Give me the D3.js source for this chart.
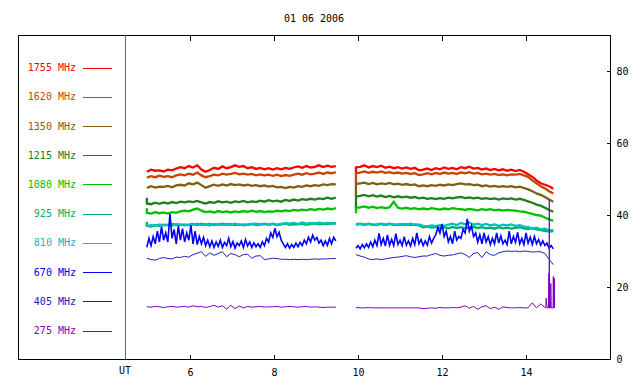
<!DOCTYPE html>
<html>
<head>
<meta charset="utf-8">
<script src="https://cdn.jsdelivr.net/npm/d3@7"></script>
<style>
  html, body { margin: 0; padding: 0; background: #fff; }
  svg text { font-family: "DejaVu Sans Mono", "Liberation Mono", monospace; font-size: 10px; }
</style>
</head>
<body>
<svg id="chart" width="640" height="384"></svg>
<script>
// ---------- data ----------
const title = "01 06 2006";
const freqs  = ["1755 MHz","1620 MHz","1350 MHz","1215 MHz","1080 MHz","925 MHz","810 MHz","670 MHz","405 MHz","275 MHz"];
const colors = ["#ff0000","#c84400","#806010","#208020","#00c000","#00b060","#00c0c0","#0000ff","#2020c0","#8000c0"];
const xTicks = [6, 8, 10, 12, 14];
const yTicks = [0, 20, 40, 60, 80];

// sampling of each segment (UT hours)
const seg1Start = 4.97, seg2Start = 9.95, step = 0.1, fineStep = 0.05;

// first reading of each record segment (drawn at the segment start, null = none)
const leadA = [null, null, null, 44.8, 41.9, 38.1, null, null, null, null];
const leadB = [51.8, 48.8, 45.3, 42.0, 40.5, null, null, null, null, null];

const f1755a = [52.0,52.6,52.3,52.4,52.1,52.6,52.4,52.9,53.3,53.0,
  53.6,53.2,53.8,52.6,52.0,52.5,53.1,52.8,53.5,53.0,
  53.3,53.8,53.4,53.6,53.0,53.3,52.8,53.1,52.7,53.0,
  52.6,53.0,52.7,53.1,52.8,53.2,53.5,53.1,53.6,53.2,
  53.4,53.8,53.3,53.7,53.4,53.6];
const f1755b = [53.2,53.4,53.8,53.2,53.6,53.3,53.7,53.1,53.4,53.0,
  53.3,52.9,53.2,52.8,53.1,52.4,52.6,52.9,52.5,53.0,
  52.7,53.2,52.8,53.1,52.7,53.3,53.0,53.4,52.9,53.1,
  52.6,52.9,52.5,52.8,52.4,52.7,52.3,52.6,52.2,52.5,
  52.0,51.3,50.6,49.6,48.8,48.4,48.0,47.3];

const f1620a = [50.4,50.8,50.5,50.9,50.6,50.8,50.5,51.0,51.3,51.0,
  51.5,51.2,51.8,51.0,50.5,50.8,51.2,51.0,51.5,51.2,
  51.4,51.7,51.3,51.5,51.2,51.4,51.0,51.3,51.0,51.2,
  50.9,51.2,50.8,51.1,50.9,51.2,51.5,51.2,51.6,51.3,
  51.5,51.8,51.4,51.8,51.6,51.9];
const f1620b = [51.6,51.8,52.1,51.7,52.0,51.8,52.1,51.7,51.9,51.6,
  51.8,51.5,51.7,51.4,51.6,51.1,51.3,51.6,51.3,51.7,
  51.4,51.8,51.5,51.7,51.4,51.8,51.6,51.9,51.5,51.7,
  51.3,51.5,51.2,51.4,51.1,51.3,51.0,51.3,51.2,51.4,
  51.0,50.6,49.6,48.8,48.0,47.4,46.6,46.0];

const f1350a = [47.5,48.0,47.6,47.9,47.8,48.1,47.7,48.2,48.4,48.2,
  48.8,48.5,49.0,48.3,47.6,48.0,48.4,48.1,48.5,48.2,
  48.6,48.3,48.5,48.2,48.4,48.1,48.3,48.0,48.2,47.9,
  48.1,47.7,47.8,47.5,47.8,47.6,48.0,47.8,48.2,48.0,
  48.3,48.1,48.5,48.3,48.6,48.5];
const f1350b = [48.6,48.8,49.0,48.6,48.9,48.5,48.8,48.6,48.9,48.5,
  48.7,48.4,48.6,48.3,48.5,48.0,48.2,48.0,48.3,48.1,
  48.4,48.2,48.5,48.3,48.6,48.8,48.5,48.6,48.3,48.4,
  48.0,48.2,47.9,48.1,47.8,48.0,47.8,48.0,47.7,47.9,
  47.5,47.1,46.6,46.0,45.6,45.0,44.3,43.7];

const f1215a = [43.2,43.0,43.4,43.1,43.5,43.2,43.6,43.3,43.7,43.5,
  43.8,43.6,43.9,43.5,43.2,43.6,43.4,43.8,43.5,43.7,
  43.4,43.8,43.6,43.9,43.5,43.8,43.6,44.0,43.7,44.1,
  43.8,44.0,43.7,44.2,43.9,44.3,44.0,44.4,44.2,44.5,
  44.3,44.6,44.4,44.8,44.5,44.8];
const f1215b = [45.1,45.3,45.6,45.2,45.5,45.1,45.4,45.0,45.3,44.9,
  45.2,44.9,45.1,44.8,45.0,44.6,44.8,44.5,44.7,44.4,
  44.7,44.5,44.8,44.6,44.9,45.0,44.7,44.9,44.6,44.8,
  44.5,44.7,44.4,44.6,44.3,44.6,44.4,44.6,44.3,44.5,
  44.2,43.8,43.4,42.9,42.6,42.0,41.4,40.9];

const f1080a = [40.6,40.4,40.8,40.5,40.7,40.4,40.8,40.6,41.0,41.2,
  41.0,41.5,41.8,41.2,40.8,41.0,40.7,41.1,40.8,41.0,
  40.7,41.0,40.8,41.1,40.9,41.2,40.9,41.1,40.8,41.0,
  40.9,41.2,41.0,41.3,41.1,41.4,41.2,41.5,41.3,41.6,
  41.4,41.7,41.5,41.8,41.6,41.9];
const f1080b = [42.0,42.1,42.4,42.0,42.3,41.9,42.2,41.9,42.1,43.7,
  42.0,41.8,42.0,41.7,41.9,41.6,41.8,41.6,41.9,41.7,
  41.5,41.8,41.6,41.9,41.7,41.6,41.4,41.7,41.5,41.3,
  41.6,41.4,41.6,41.3,41.5,41.2,41.4,41.3,41.2,41.0,
  40.9,40.6,40.3,40.0,39.8,39.3,38.8,38.4];

const f925a = [37.0,36.8,37.2,37.0,37.3,37.1,37.5,37.2,37.4,37.1,
  37.3,37.5,37.2,37.6,37.3,37.5,37.2,37.4,37.6,37.3,
  37.5,37.2,37.4,37.1,37.3,37.5,37.2,37.4,37.6,37.3,
  37.5,37.2,37.4,37.6,37.3,37.5,37.4,37.6,37.3,37.5,
  37.7,37.4,37.6,37.5,37.7,37.6];
const f925b = [37.4,37.6,37.3,37.5,37.2,37.4,37.6,37.3,37.5,37.2,
  37.4,37.3,37.5,37.2,37.4,37.1,36.6,36.8,36.5,36.7,
  36.4,36.6,36.3,36.7,36.4,36.6,36.3,36.5,36.7,36.4,
  36.6,36.3,36.5,36.2,36.6,36.3,36.5,36.2,36.4,36.6,
  36.3,36.1,36.4,36.0,35.8,35.6,35.4,35.5];

const f810a = [36.9,37.2,37.0,37.4,37.1,37.3,37.0,37.5,37.2,37.4,
  37.1,37.3,37.6,37.2,37.4,37.1,37.5,37.3,37.2,37.5,
  37.3,37.6,37.2,37.4,37.3,37.5,37.6,37.3,37.5,37.4,
  37.6,37.3,37.5,37.7,37.6,37.8,37.5,37.9,37.6,37.8,
  37.6,37.9,37.7,37.8,37.6,37.8];
const f810b = [37.2,37.5,37.3,37.6,37.4,37.2,37.5,37.3,37.6,37.4,
  37.2,37.5,37.3,37.6,37.2,37.4,37.0,36.8,37.1,36.9,
  37.2,37.0,37.3,37.6,37.2,37.8,37.4,37.9,37.3,37.6,
  37.2,37.5,37.1,37.4,37.0,37.3,37.1,37.4,37.0,37.2,
  36.8,36.6,36.2,36.5,36.0,36.2,35.7,35.9];

// 670 MHz is sampled twice as finely (fineStep)
const f670a = [31.0,33.5,31.5,34.0,32.0,35.5,32.5,36.8,33.0,35.0,
  32.5,40.3,33.5,36.0,32.0,37.0,33.0,36.2,32.5,35.0,
  33.0,37.2,32.0,35.5,31.8,34.0,32.0,33.8,31.5,33.0,
  31.2,32.8,31.0,32.5,31.3,33.0,31.0,32.4,31.5,33.5,
  31.2,32.6,30.8,32.2,31.5,32.8,31.0,33.2,31.4,32.5,
  31.0,32.3,31.2,32.0,31.0,32.6,31.5,33.5,32.5,35.0,
  33.8,36.3,34.0,35.2,33.0,32.0,31.0,32.0,30.8,31.8,
  31.0,32.2,31.2,32.4,31.5,33.0,32.0,33.8,32.5,34.4,
  33.0,33.8,32.2,33.0,31.5,32.8,31.6,33.5,32.0,33.8,
  32.8];
const f670b = [30.8,31.5,30.6,31.8,30.9,32.0,31.0,32.5,31.2,33.0,
  31.5,34.9,31.8,33.5,31.4,34.5,31.6,33.2,31.5,34.8,
  31.8,33.0,31.5,34.0,31.6,32.8,31.4,33.5,31.8,35.0,
  32.0,33.2,31.5,32.8,31.6,34.0,32.2,33.5,34.5,36.5,
  35.0,37.5,34.0,35.5,32.5,34.0,32.0,35.5,33.0,34.0,
  33.5,36.0,35.0,38.9,35.5,37.0,34.0,35.0,32.5,34.5,
  32.0,35.0,32.5,34.0,31.8,33.5,32.0,35.0,32.2,34.2,
  32.0,33.0,31.8,35.5,32.0,34.0,32.4,35.2,32.0,33.5,
  31.8,35.0,32.2,33.8,31.8,34.0,32.0,33.2,31.6,32.8,
  31.5,32.2,30.8,31.5,30.6];

const f405a = [28.0,27.6,27.5,27.9,28.2,27.9,27.8,28.3,28.2,28.5,
  28.3,29.0,29.4,29.8,28.5,29.5,28.8,29.3,29.8,28.4,
  29.3,29.0,28.4,29.0,29.1,28.0,28.6,28.7,27.6,27.8,
  28.0,27.9,27.7,27.7,27.6,27.7,27.6,27.7,27.6,27.7,
  27.8,27.7,27.8,27.8,27.9,27.9];
const f405b = [29.0,28.6,28.3,27.8,27.6,27.8,27.6,27.8,28.0,28.2,
  28.3,28.5,28.7,28.4,28.2,28.4,28.6,28.6,29.0,29.3,
  28.8,28.6,28.8,28.9,29.2,29.5,29.0,28.2,29.3,29.6,
  28.2,29.8,29.0,28.8,29.5,29.8,30.0,29.9,30.0,29.8,
  30.0,29.9,29.7,29.8,29.8,29.3,27.7,26.2];

const f275a = [14.5,14.4,14.6,14.5,14.3,14.5,14.6,14.4,14.5,14.6,
  14.4,14.8,14.5,14.6,14.3,14.6,14.9,14.4,14.8,13.9,
  14.9,14.0,14.7,14.2,14.6,14.4,14.5,14.6,14.4,14.5,
  14.5,14.6,14.4,14.5,14.6,14.5,14.4,14.5,14.6,14.4,
  14.5,14.4,14.3,14.4,14.4,14.4];
const f275b = [14.3,14.2,14.2,14.3,14.2,14.2,14.2,14.2,14.2,14.2,
  14.2,14.2,14.2,14.2,14.2,14.2,14.0,14.1,14.2,14.1,
  14.3,14.2,14.2,14.3,14.2,14.4,14.8,14.1,14.6,13.8,
  14.5,14.8,14.0,14.4,13.8,14.5,14.3,14.2,14.2,14.3,
  14.2,14.2,15.6,14.2,15.3,14.3];
// burst at the end of the 275 MHz record
const burst275T = [14.47,14.48,14.50,14.535,14.545,14.55,14.555,14.56,14.585,14.59,14.60,14.645,14.65,14.66,14.67,14.675,14.68];
const burst275V = [14.2,16.9,14.2,14.2,23.8,14.2,44.2,14.2,14.2,21.0,14.2,14.2,22.9,14.2,14.2,22.4,14.2];

// ---------- build ----------
const seriesA = [f1755a,f1620a,f1350a,f1215a,f1080a,f925a,f810a,f670a,f405a,f275a];
const seriesB = [f1755b,f1620b,f1350b,f1215b,f1080b,f925b,f810b,f670b,f405b,f275b];

function toPoints(vals, t0, dt, lead) {
  const pts = vals.map((v, i) => [t0 + i * dt, v]);
  if (lead !== null) pts.unshift([t0, lead]);
  return pts;
}

const svg = d3.select("#chart");
const frame = {left: 18, right: 610, top: 35, bottom: 359};
const divider = 125;

const x = d3.scaleLinear().domain([4.45, 16]).range([divider, frame.right]);
const y = d3.scaleLinear().domain([0, 90]).range([frame.bottom, frame.top]);

// title
svg.append("text").attr("x", (frame.left + frame.right) / 2).attr("y", 22)
  .attr("text-anchor", "middle").attr("fill", "#000").text(title);

// frame
svg.append("rect").attr("x", frame.left + 0.5).attr("y", frame.top + 0.5)
  .attr("width", frame.right - frame.left).attr("height", frame.bottom - frame.top)
  .attr("fill", "none").attr("stroke", "#000").attr("stroke-width", 1)
  .attr("shape-rendering", "crispEdges");
svg.append("line").attr("x1", divider + 0.5).attr("x2", divider + 0.5)
  .attr("y1", frame.top).attr("y2", frame.bottom)
  .attr("stroke", "#666").attr("shape-rendering", "crispEdges");

// axes
const gB = svg.append("g").attr("transform", `translate(0,${frame.bottom + 0.5})`)
  .call(d3.axisBottom(x).tickValues(xTicks).tickSizeInner(-5).tickSizeOuter(0).tickPadding(9).tickFormat(d3.format("d")));
const gT = svg.append("g").attr("transform", `translate(0,${frame.top + 0.5})`)
  .call(d3.axisTop(x).tickValues(xTicks).tickSizeInner(-5).tickSizeOuter(0).tickFormat(""));
const gR = svg.append("g").attr("transform", `translate(${frame.right + 0.5},0)`)
  .call(d3.axisRight(y).tickValues(yTicks).tickSizeInner(-4).tickSizeOuter(0).tickPadding(6));
[gB, gT, gR].forEach(g => {
  g.select(".domain").remove();
  g.selectAll("line").attr("stroke", "#000").attr("shape-rendering", "crispEdges");
  g.selectAll("text").attr("fill", "#000")
    .style("font-family", "\"DejaVu Sans Mono\", monospace").style("font-size", "10px");
});
gR.selectAll("text").attr("dy", "0.35em");

svg.append("text").attr("x", divider).attr("y", 374).attr("text-anchor", "middle")
  .attr("fill", "#000").text("UT");

// legend
const ly = d3.scalePoint().domain(freqs).range([67.5, 330.5]);
const leg = svg.append("g");
freqs.forEach((f, i) => {
  leg.append("text").attr("x", 76).attr("y", ly(f)).attr("dy", "0.36em")
    .attr("text-anchor", "end").attr("fill", colors[i]).text(f);
  leg.append("line").attr("x1", 83).attr("x2", 112)
    .attr("y1", Math.round(ly(f)) + 0.5).attr("y2", Math.round(ly(f)) + 0.5)
    .attr("stroke", colors[i]).attr("shape-rendering", "crispEdges");
});

// lines
const line = d3.line().x(d => x(d[0])).y(d => y(d[1]));
const plot = svg.append("g");
freqs.forEach((f, i) => {
  const dt = (i === 7) ? fineStep : step;
  const a = toPoints(seriesA[i], seg1Start, dt, leadA[i]);
  let b = toPoints(seriesB[i], seg2Start, dt, leadB[i]);
  if (i === 9) b = b.concat(burst275T.map((t, k) => [t, burst275V[k]]));
  [a, b].forEach(pts => {
    plot.append("path").datum(pts).attr("d", line)
      .attr("fill", "none").attr("stroke", colors[i])
      .attr("stroke-width", (i >= 8) ? 1 : (i === 7 ? 1.6 : 2.3))
      .attr("stroke-linejoin", "miter");
  });
});
</script>
</body>
</html>
